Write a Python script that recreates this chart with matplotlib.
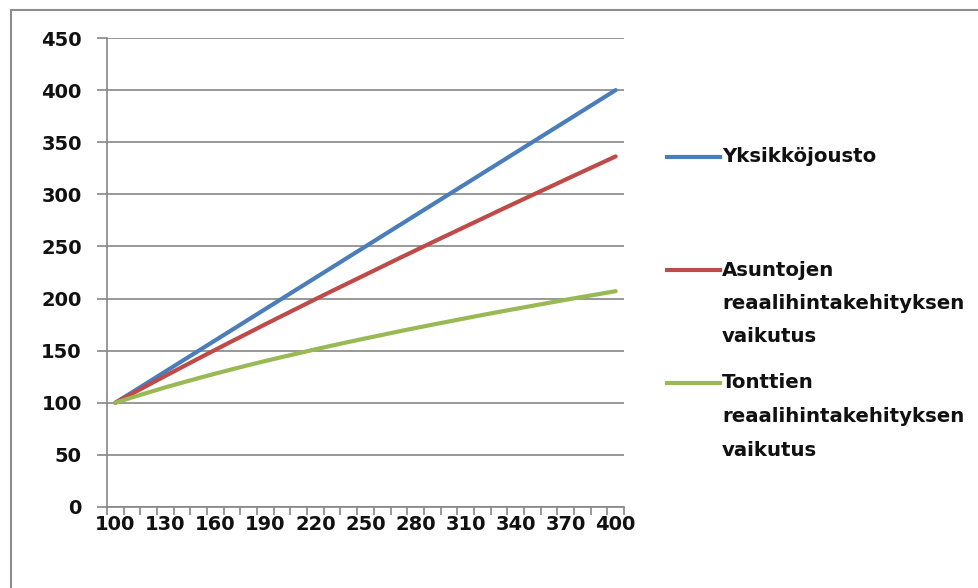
import matplotlib
matplotlib.use("Agg")
import numpy as np
import matplotlib.pyplot as plt
from matplotlib.lines import Line2D
from matplotlib.patches import Rectangle

# Category axis values
categories = list(range(100, 401, 10))

# Series values
yksikkojousto = [100, 110, 120, 130, 140, 150, 160, 170, 180, 190, 200,
                 210, 220, 230, 240, 250, 260, 270, 280, 290, 300,
                 310, 320, 330, 340, 350, 360, 370, 380, 390, 400]
asuntojen = [100, 108.7, 117.3, 125.8, 134.2, 142.6, 150.9, 159.1, 167.2, 175.4, 183.4,
             191.4, 199.4, 207.3, 215.1, 222.9, 230.7, 238.5, 246.2, 253.9, 261.5,
             269.1, 276.7, 284.3, 291.8, 299.3, 306.7, 314.2, 321.6, 329.0, 336.4]
tonttien = [100, 105.1, 110.0, 114.8, 119.3, 123.7, 128.0, 132.1, 136.2, 140.1, 143.9,
            147.6, 151.3, 154.9, 158.4, 161.8, 165.1, 168.5, 171.7, 174.9, 178.0,
            181.1, 184.2, 187.2, 190.1, 193.0, 195.9, 198.8, 201.6, 204.3, 207.1]

series_labels = [
    ["Yksikköjousto"],
    ["Asuntojen", "reaalihintakehityksen", "vaikutus"],
    ["Tonttien", "reaalihintakehityksen", "vaikutus"],
]
y_ticks = [0, 50, 100, 150, 200, 250, 300, 350, 400, 450]
x_tick_labels = [100, 130, 160, 190, 220, 250, 280, 310, 340, 370, 400]

colors = ["#4a7ebb", "#be4b48", "#98b954"]
grid_color = "#868686"
text_color = "#111111"

W, H = 979, 588
fig = plt.figure(figsize=(W / 100, H / 100), dpi=100)
fig.patch.set_facecolor("white")

# Plot area
left, right, top, bottom = 107, 624, 38, 507
ax = fig.add_axes([left / W, 1 - bottom / H, (right - left) / W, (bottom - top) / H])

pos = np.arange(len(categories))
for values, c in zip([yksikkojousto, asuntojen, tonttien], colors):
    ax.plot(pos, values, color=c, lw=3, solid_capstyle="round", solid_joinstyle="round", zorder=3)

ax.set_xlim(-0.5, len(categories) - 0.5)
ax.set_ylim(0, 450)

ax.set_yticks(y_ticks)
ax.set_yticklabels([str(v) for v in y_ticks])
ax.yaxis.grid(True, color=grid_color, lw=1.2)
ax.set_axisbelow(True)

label_pos = [categories.index(v) for v in x_tick_labels]
ax.set_xticks(label_pos)
ax.set_xticklabels([str(v) for v in x_tick_labels])
ax.set_xticks(np.arange(-0.5, len(categories)), minor=True)

for lbl in ax.get_xticklabels() + ax.get_yticklabels():
    lbl.set_fontfamily("DejaVu Sans")
    lbl.set_fontweight("bold")
    lbl.set_fontsize(14)
    lbl.set_color(text_color)

ax.tick_params(axis="x", which="major", length=0, pad=6)
ax.tick_params(axis="x", which="minor", length=5.5, width=1.2, color=grid_color)
ax.tick_params(axis="y", which="major", length=7.2, width=1.2, color=grid_color, pad=11)

for s in ["top", "right"]:
    ax.spines[s].set_visible(False)
for s in ["left", "bottom"]:
    ax.spines[s].set_color(grid_color)
    ax.spines[s].set_linewidth(1.2)

# Legend
entry_y = [157, 270, 383]
line_gap = 33.5
for c, lines, y0 in zip(colors, series_labels, entry_y):
    fig.add_artist(Line2D([667 / W, 720 / W], [1 - y0 / H, 1 - y0 / H],
                          transform=fig.transFigure, color=c, lw=3))
    for i, t in enumerate(lines):
        fig.text(722 / W, 1 - (y0 + i * line_gap) / H, t, ha="left", va="center",
                 color=text_color, family="DejaVu Sans", fontweight="bold", size=14.2)

# Chart area border
fig.add_artist(Rectangle((11 / W, -0.1), 1.2, 1.1 - 9.5 / H, transform=fig.transFigure,
                         fill=False, ec="#8c8c8c", lw=1.5))

fig.savefig("out.png", dpi=100)
